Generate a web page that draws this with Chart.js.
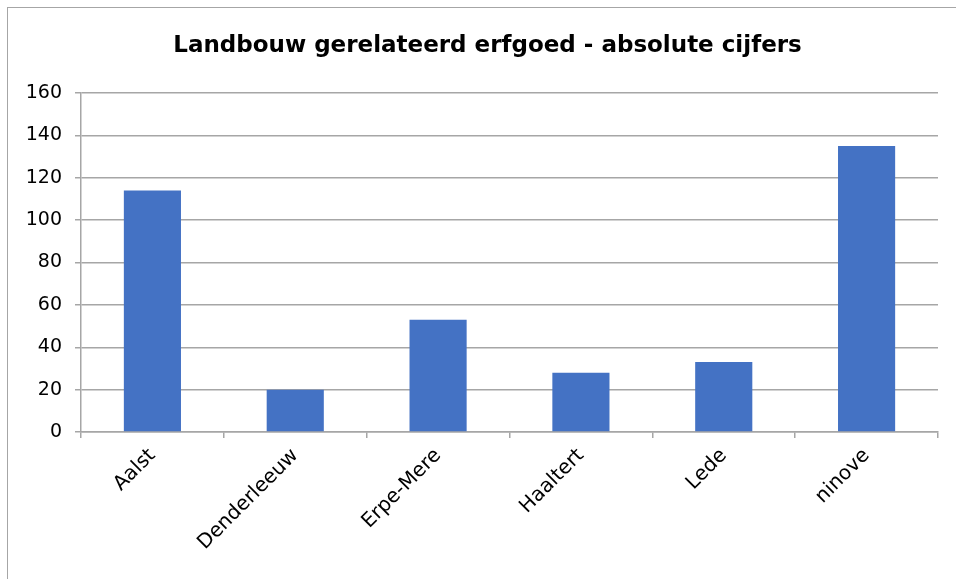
<!DOCTYPE html>
<html>
<head>
<meta charset="utf-8">
<script src="https://cdn.jsdelivr.net/npm/chart.js@4/dist/chart.umd.min.js"></script>
<style>
html,body{margin:0;padding:0;background:#fff;overflow:hidden;width:956px;height:579px;}
#frame{position:absolute;left:7px;top:7px;width:970px;height:600px;border:1.5px solid #a6a6a6;box-sizing:border-box;}
#wrap{position:absolute;left:0;top:0;width:956px;height:579px;}
</style>
</head>
<body>
<div id="frame"></div>
<div id="wrap"><canvas id="c" width="956" height="579"></canvas></div>
<script>
const categories = ["Aalst", "Denderleeuw", "Erpe-Mere", "Haaltert", "Lede", "ninove"];
const values = [114, 20, 53, 28, 33, 135];
const yTicks = [0, 20, 40, 60, 80, 100, 120, 140, 160];
const titleText = "Landbouw gerelateerd erfgoed - absolute cijfers";

const FONT = "'DejaVu Sans', sans-serif";
const GRID = "#a6a6a6";

const titleShift = {
  id: 'titleShift',
  afterLayout(chart) {
    const t = chart.titleBlock;
    if (t) { t.left = 37; t.width = t.right - t.left; }
  }
};

new Chart(document.getElementById('c'), {
  type: 'bar',
  data: {
    labels: categories,
    datasets: [{
      data: values,
      backgroundColor: '#4472C4',
      borderWidth: 0,
      categoryPercentage: 1.0,
      barPercentage: 0.4
    }]
  },
  plugins: [titleShift],
  options: {
    responsive: false,
    animation: false,
    devicePixelRatio: 1,
    layout: { padding: { left: 0, right: 18, top: 0, bottom: 0 } },
    plugins: {
      legend: { display: false },
      tooltip: { enabled: false },
      title: {
        display: true,
        text: titleText,
        color: '#000',
        font: { family: FONT, size: 23, weight: 'bold' },
        padding: { top: 32, bottom: 33.5 }
      }
    },
    scales: {
      x: {
        offset: true,
        grid: { display: true, drawOnChartArea: false, drawTicks: true, tickLength: 6, offset: true, color: GRID, lineWidth: 1.5 },
        border: { display: true, color: GRID, width: 1.5 },
        ticks: { color: '#000', font: { family: FONT, size: 20 }, minRotation: 45, maxRotation: 45, padding: 6, autoSkip: false },
        afterFit: (s) => { s.height = 579 - 432; }
      },
      y: {
        min: 0, max: 160,
        afterBuildTicks: (s) => { s.ticks = yTicks.map(v => ({ value: v })); },
        grid: { color: GRID, lineWidth: 1.5, drawTicks: true, tickLength: 6 },
        border: { display: true, color: GRID, width: 1.5 },
        ticks: { color: '#000', font: { family: FONT, size: 19 }, padding: 13 },
        afterFit: (s) => { s.width = 81; }
      }
    }
  }
});
</script>
</body>
</html>
